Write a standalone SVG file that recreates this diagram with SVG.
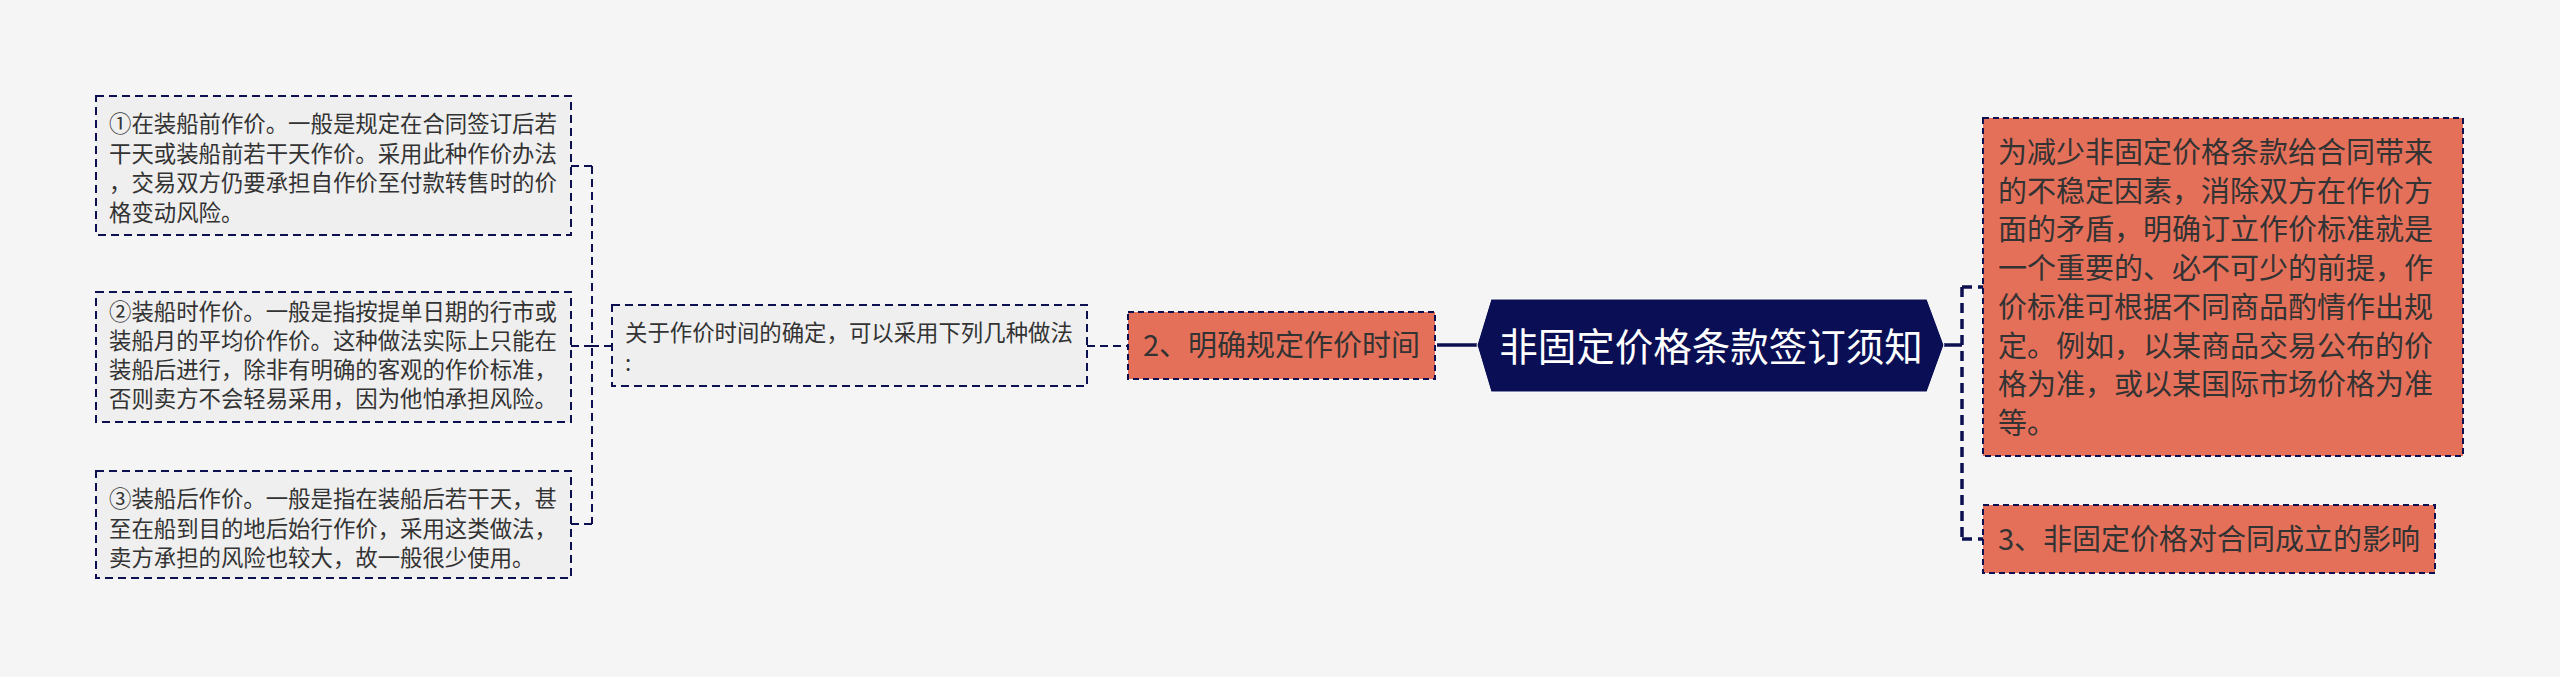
<svg xmlns="http://www.w3.org/2000/svg" width="2560" height="677" viewBox="0 0 2560 677">
<style>
.bg{fill:#F5F5F5}
.leaf{fill:#EFEFEF;stroke:#0C1050;stroke-width:2;stroke-dasharray:8 5}
.orange{fill:#E5705A;stroke:#0C1050;stroke-width:2;stroke-dasharray:6 4}
.hex{fill:#0A0F55;stroke:#FFFFFF;stroke-width:1}
.t{font-family:"Noto Sans CJK SC","Noto Sans",sans-serif;fill:#333333}
.s{font-size:22.4px}
.m{font-size:29px}
.main{font-family:"Noto Sans CJK SC","Noto Sans",sans-serif;font-size:38.5px;fill:#FFFFFF}
.c{fill:none;stroke:#0C1050;stroke-width:2;stroke-dasharray:8 5}
.cr{fill:none;stroke:#0C1050;stroke-width:3.5;stroke-dasharray:10 6}
.cs{fill:none;stroke:#0C1050;stroke-width:3.5}
</style>
<rect class="bg" x="0" y="0" width="2560" height="677"/>
<g id="connectors">
<path class="c" d="M612,346 H592"/>
<path class="c" d="M592,166 V524"/>
<path class="c" d="M592,166 H571"/>
<path class="c" d="M592,346 H571"/>
<path class="c" d="M592,524 H571"/>
<path class="c" d="M1087,346 H1128"/>
<path class="cs" d="M1437,345 H1478"/>
<path class="cs" d="M1944,345 H1962"/>
<path class="cr" d="M1962,287 V539"/>
<path class="cr" d="M1962,287 H1983"/>
<path class="cr" d="M1962,539 H1983"/>
</g>
<g id="node-main">
<polygon class="hex" points="1477,345 1491,299 1927,299 1944,345 1927,392 1491,392"/>
<text class="main" x="1711" y="361" text-anchor="middle">非固定价格条款签订须知</text>
</g>
<g id="node-2">
<rect class="orange" x="1128" y="312" width="307" height="67"/>
<text class="t m" x="1143" y="356">2、明确规定作价时间</text>
</g>
<g id="node-mid">
<rect class="leaf" x="612" y="305" width="475" height="81"/>
<text class="t s" x="625" y="341">关于作价时间的确定，可以采用下列几种做法</text>
<text class="t s" x="625" y="370.5">:</text>
</g>
<g id="node-l1">
<rect class="leaf" x="96" y="96" width="475" height="139"/>
<text class="t s" x="109" y="132">①在装船前作价。一般是规定在合同签订后若</text>
<text class="t s" x="109" y="161.5">干天或装船前若干天作价。采用此种作价办法</text>
<text class="t s" x="109" y="191">，交易双方仍要承担自作价至付款转售时的价</text>
<text class="t s" x="109" y="220.5">格变动风险。</text>
</g>
<g id="node-l2">
<rect class="leaf" x="96" y="292" width="475" height="130"/>
<text class="t s" x="109" y="320">②装船时作价。一般是指按提单日期的行市或</text>
<text class="t s" x="109" y="349">装船月的平均价作价。这种做法实际上只能在</text>
<text class="t s" x="109" y="378">装船后进行，除非有明确的客观的作价标准，</text>
<text class="t s" x="109" y="406.5">否则卖方不会轻易采用，因为他怕承担风险。</text>
</g>
<g id="node-l3">
<rect class="leaf" x="96" y="471" width="475" height="107"/>
<text class="t s" x="109" y="507">③装船后作价。一般是指在装船后若干天，甚</text>
<text class="t s" x="109" y="536.5">至在船到目的地后始行作价，采用这类做法，</text>
<text class="t s" x="109" y="566">卖方承担的风险也较大，故一般很少使用。</text>
</g>
<g id="node-r1">
<rect class="orange" x="1983" y="118" width="480" height="338"/>
<text class="t m" x="1998" y="163">为减少非固定价格条款给合同带来</text>
<text class="t m" x="1998" y="201.7">的不稳定因素，消除双方在作价方</text>
<text class="t m" x="1998" y="240.4">面的矛盾，明确订立作价标准就是</text>
<text class="t m" x="1998" y="279.1">一个重要的、必不可少的前提，作</text>
<text class="t m" x="1998" y="317.8">价标准可根据不同商品酌情作出规</text>
<text class="t m" x="1998" y="356.5">定。例如，以某商品交易公布的价</text>
<text class="t m" x="1998" y="395.2">格为准，或以某国际市场价格为准</text>
<text class="t m" x="1998" y="433.9">等。</text>
</g>
<g id="node-r2">
<rect class="orange" x="1983" y="505" width="452" height="68"/>
<text class="t m" x="1998" y="550">3、非固定价格对合同成立的影响</text>
</g>
</svg>
